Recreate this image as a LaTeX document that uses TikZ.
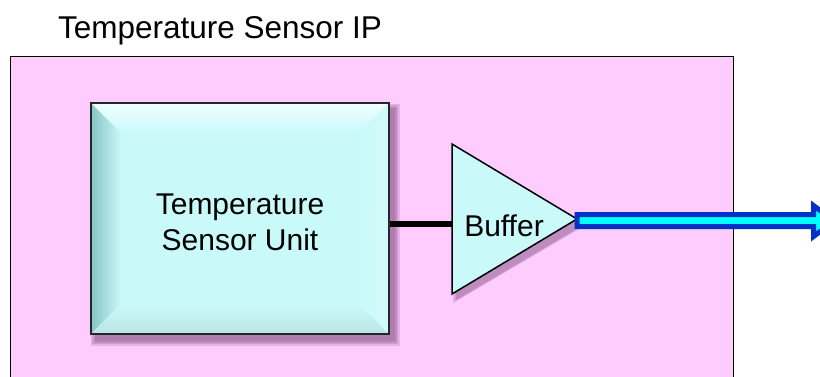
\documentclass[tikz,border=0pt]{standalone}
\usepackage{fontspec}
\setmainfont{Liberation Sans}
\definecolor{pinkbg}{RGB}{255,204,255}
\definecolor{face}{RGB}{202,249,249}
\definecolor{bevtop}{RGB}{240,255,255}
\definecolor{bevleft}{RGB}{135,196,198}
\definecolor{arrblue}{RGB}{0,50,200}
\definecolor{arrcyan}{RGB}{0,255,255}
\definecolor{shadowc}{RGB}{90,40,90}
\tikzset{
  lbl/.style={font=\fontsize{30}{36}\selectfont, align=center, inner sep=0pt},
  ttl/.style={font=\fontsize{31.5}{37}\selectfont, inner sep=0pt},
  wire/.style={line width=6pt, black},
  shadowlayer/.style={fill=shadowc, opacity=0.15, draw=none},
}
\begin{document}
\begin{tikzpicture}[x=1pt,y=-1pt]
\useasboundingbox (0,0) rectangle (820,376);
% outer IP block
\node[draw=black, line width=1pt, fill=pinkbg, minimum width=723pt, minimum height=330pt, inner sep=0pt, anchor=north west] (ip) at (10,56) {};
\node[ttl, anchor=base] (title) at (220,38) {Temperature Sensor IP};
% shadow of sensor unit
\foreach \s in {0,1.5,3,4.5} {
  \fill[shadowlayer] (95-\s,108-\s) rectangle (395+\s,341+\s);
}
% shadow of buffer
\foreach \s in {0,1.5,3} {
  \fill[shadowlayer] (456-\s,149-\s) -- (583+\s,225) -- (456-\s,300+\s) -- cycle;
}
% bevelled sensor unit
\fill[face] (91,103) rectangle (389,334);
\shade[top color=bevtop, bottom color=face] (91,103) -- (389,103) -- (359,133) -- (121,133) -- cycle;
\shade[left color=bevleft, right color=face] (91,103) -- (121,133) -- (121,304) -- (91,334) -- cycle;
\shade[left color=face, right color=face!85!white] (389,103) -- (389,334) -- (359,304) -- (359,133) -- cycle;
\shade[top color=face, bottom color=face!92!black] (91,334) -- (121,304) -- (359,304) -- (389,334) -- cycle;
\node[draw=black!85, line width=2pt, minimum width=298pt, minimum height=231pt, inner sep=0pt] (tsu) at (240,218.5) {};
\node[lbl] (tsutext) at (240,222) {Temperature\\Sensor Unit};
% buffer
\coordinate (bufin) at (452,224);
\coordinate (bufout) at (577,219);
\filldraw[fill=face, draw=black, line width=1.5pt, line join=miter] (452,144) -- (bufout) -- (452,294) -- cycle;
\node[lbl, anchor=base] (buf) at (504,236) {Buffer};
% wire
\draw[wire] (tsu.east |- bufin) -- (bufin);
% output block arrow
\coordinate (arrtip) at (834,221);
\filldraw[fill=arrcyan, draw=arrblue, line width=5pt, line join=miter]
  (bufout |- 0,214.5) -- (813.5,214.5) -- (813.5,205.5) -- (arrtip) -- (813.5,236.5) -- (813.5,226.5) -- (bufout |- 0,226.5) -- cycle;
\end{tikzpicture}
\end{document}
